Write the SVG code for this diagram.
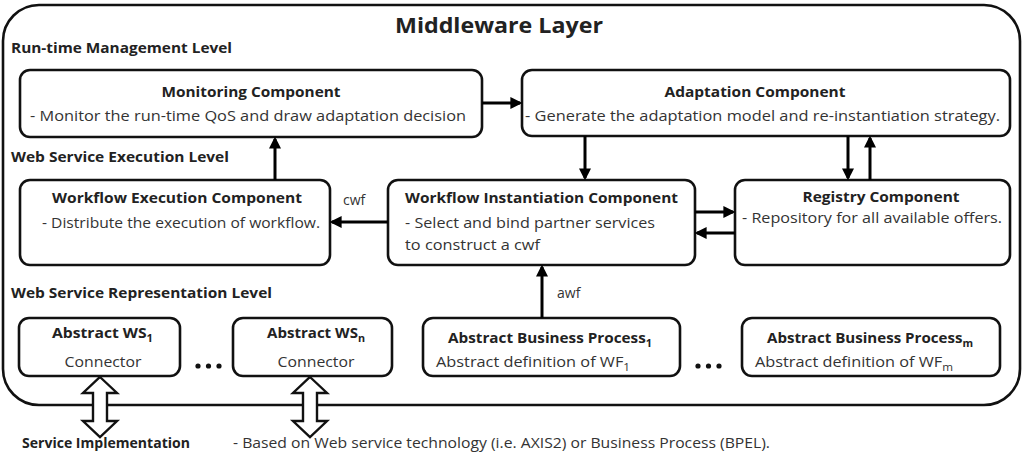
<svg xmlns="http://www.w3.org/2000/svg" width="1033" height="453" viewBox="0 0 1033 453">
<style>
text{font-family:"Open Sans","Liberation Sans",sans-serif;fill:#222}
.t{font-weight:bold;font-size:14px}
.b{font-size:14px;fill:#333}
.lvl{font-weight:bold;font-size:13.5px}
.box{fill:#fff;stroke:#111;stroke-width:2.6}
.c{stroke:#000;stroke-width:3;fill:none}
.h{fill:#fff;stroke:#111;stroke-width:2.4;stroke-linejoin:miter}
</style>
<defs>
<marker id="ah" viewBox="0 0 10 10" refX="8" refY="5" markerWidth="4" markerHeight="4" orient="auto" markerUnits="strokeWidth">
<path d="M0,0 L10,5 L0,10 z" fill="#000"/>
</marker>
</defs>
<rect width="1033" height="453" fill="#fff"/>
<g id="middleware">
<rect x="3" y="5" width="1017" height="400" rx="36" fill="#fff" stroke="#111" stroke-width="2.6"/>
<text x="499" y="33" text-anchor="middle" font-weight="bold" font-size="22" textLength="208" lengthAdjust="spacingAndGlyphs">Middleware Layer</text>
<text class="lvl" x="11" y="53" textLength="221" lengthAdjust="spacingAndGlyphs">Run-time Management Level</text>
<text class="lvl" x="11" y="162" textLength="218" lengthAdjust="spacingAndGlyphs">Web Service Execution Level</text>
<text class="lvl" x="11" y="298" textLength="261" lengthAdjust="spacingAndGlyphs">Web Service Representation Level</text>
</g>
<g id="monitoring">
<rect class="box" x="20" y="70" width="462" height="67" rx="10"/>
<text class="t" x="251" y="97" text-anchor="middle" textLength="179" lengthAdjust="spacingAndGlyphs">Monitoring Component</text>
<text class="b" x="30" y="121" textLength="436" lengthAdjust="spacingAndGlyphs">- Monitor the run-time QoS and draw adaptation decision</text>
</g>
<g id="adaptation">
<rect class="box" x="522" y="70" width="488" height="66" rx="10"/>
<text class="t" x="755" y="97" text-anchor="middle" textLength="181" lengthAdjust="spacingAndGlyphs">Adaptation Component</text>
<text class="b" x="525" y="121" textLength="475" lengthAdjust="spacingAndGlyphs">- Generate the adaptation model and re-instantiation strategy.</text>
</g>
<g id="execution">
<rect class="box" x="20" y="180" width="310" height="85" rx="10"/>
<text class="t" x="177" y="203" text-anchor="middle" textLength="250" lengthAdjust="spacingAndGlyphs">Workflow Execution Component</text>
<text class="b" x="42" y="228" textLength="278" lengthAdjust="spacingAndGlyphs">- Distribute the execution of workflow.</text>
</g>
<g id="instantiation">
<rect class="box" x="388" y="180" width="307" height="85" rx="10"/>
<text class="t" x="405" y="203" textLength="273" lengthAdjust="spacingAndGlyphs">Workflow Instantiation Component</text>
<text class="b" x="405" y="228" textLength="250" lengthAdjust="spacingAndGlyphs">- Select and bind partner services</text>
<text class="b" x="405" y="250" textLength="135" lengthAdjust="spacingAndGlyphs">to construct a cwf</text>
</g>
<g id="registry">
<rect class="box" x="735" y="180" width="275" height="85" rx="10"/>
<text class="t" x="881" y="202" text-anchor="middle" textLength="157" lengthAdjust="spacingAndGlyphs">Registry Component</text>
<text class="b" x="742" y="223" textLength="260" lengthAdjust="spacingAndGlyphs">- Repository for all available offers.</text>
</g>
<g id="ws1">
<rect class="box" x="19" y="318" width="161" height="58" rx="10"/>
<text class="t" x="52" y="338" textLength="101" lengthAdjust="spacingAndGlyphs">Abstract WS<tspan font-size="10" dy="4">1</tspan></text>
<text class="b" x="103" y="367" text-anchor="middle" textLength="77" lengthAdjust="spacingAndGlyphs">Connector</text>
</g>
<g id="wsn">
<rect class="box" x="233" y="318" width="159" height="58" rx="10"/>
<text class="t" x="267" y="338" textLength="98" lengthAdjust="spacingAndGlyphs">Abstract WS<tspan font-size="10" dy="4">n</tspan></text>
<text class="b" x="316" y="367" text-anchor="middle" textLength="77" lengthAdjust="spacingAndGlyphs">Connector</text>
</g>
<g id="bp1">
<rect class="box" x="423" y="318" width="257" height="58" rx="10"/>
<text class="t" x="448" y="343" textLength="204" lengthAdjust="spacingAndGlyphs">Abstract Business Process<tspan font-size="10" dy="4">1</tspan></text>
<text class="b" x="436" y="367" textLength="194" lengthAdjust="spacingAndGlyphs">Abstract definition of WF<tspan font-size="10" dy="4">1</tspan></text>
</g>
<g id="bpm">
<rect class="box" x="742" y="318" width="258" height="58" rx="10"/>
<text class="t" x="767" y="343" textLength="206" lengthAdjust="spacingAndGlyphs">Abstract Business Process<tspan font-size="10" dy="4">m</tspan></text>
<text class="b" x="755" y="367" textLength="198" lengthAdjust="spacingAndGlyphs">Abstract definition of WF<tspan font-size="10" dy="4">m</tspan></text>
</g>
<g id="dots" fill="#111">
<circle cx="198" cy="366" r="2.6"/><circle cx="208.5" cy="366" r="2.6"/><circle cx="219" cy="366" r="2.6"/>
<circle cx="698" cy="366" r="2.6"/><circle cx="708.5" cy="366" r="2.6"/><circle cx="719" cy="366" r="2.6"/>
</g>
<g id="connectors">
<line class="c" x1="482" y1="103" x2="520" y2="103" marker-end="url(#ah)"/>
<line class="c" x1="275" y1="180" x2="275" y2="139" marker-end="url(#ah)"/>
<line class="c" x1="585" y1="136" x2="585" y2="178" marker-end="url(#ah)"/>
<line class="c" x1="848" y1="136" x2="848" y2="178" marker-end="url(#ah)"/>
<line class="c" x1="870" y1="180" x2="870" y2="138" marker-end="url(#ah)"/>
<line class="c" x1="695" y1="212" x2="733" y2="212" marker-end="url(#ah)"/>
<line class="c" x1="735" y1="233" x2="697" y2="233" marker-end="url(#ah)"/>
<line class="c" x1="388" y1="222" x2="332" y2="222" marker-end="url(#ah)"/>
<line class="c" x1="542" y1="318" x2="542" y2="267" marker-end="url(#ah)"/>
<text class="b" x="343" y="205">cwf</text>
<text class="b" x="557" y="298">awf</text>
<path class="h" d="M100,377 L117,393 L107,393 L107,421 L117,421 L100,437 L83,421 L93,421 L93,393 L83,393 Z"/>
<path class="h" d="M310,377 L327,393 L317,393 L317,421 L327,421 L310,437 L293,421 L303,421 L303,393 L293,393 Z"/>
</g>
<g id="implementation">
<text class="t" x="22" y="448" textLength="168" lengthAdjust="spacingAndGlyphs">Service Implementation</text>
<text class="b" x="233" y="448" textLength="537" lengthAdjust="spacingAndGlyphs">- Based on Web service technology (i.e. AXIS2) or Business Process (BPEL).</text>
</g>
</svg>
